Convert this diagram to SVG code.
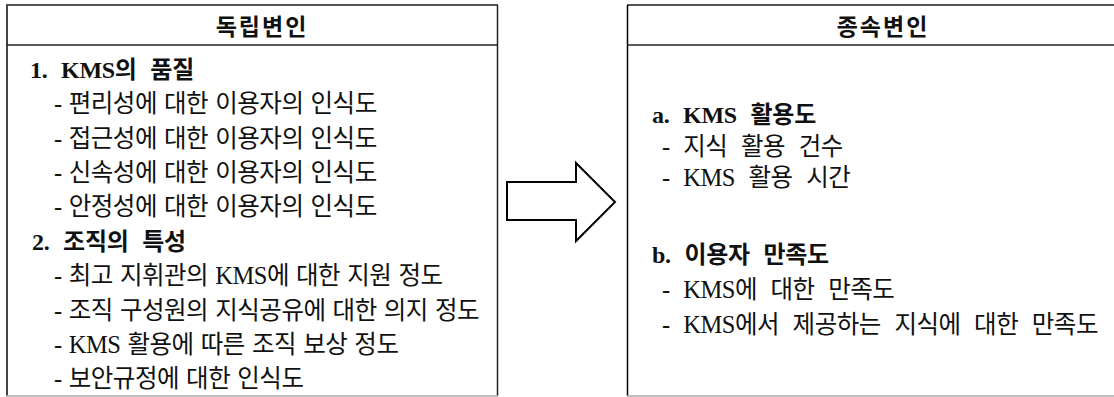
<svg xmlns="http://www.w3.org/2000/svg" width="1114" height="397" viewBox="0 0 1114 397">
<style>
text{font-family:"Liberation Serif","Noto Sans CJK KR",serif;fill:#111}
.t{font-size:23px;font-weight:bold;text-anchor:middle;letter-spacing:2px}
.h{font-size:24px;font-weight:bold;letter-spacing:-0.3px;word-spacing:8px}
.b{font-size:24.5px;letter-spacing:-0.5px;word-spacing:1.5px}
.r{word-spacing:8px}
.edge{stroke:#222;stroke-width:1.5;fill:none}
.top{stroke:#555;stroke-width:2;fill:none}
.bot{stroke:#aaa;stroke-width:1.5;fill:none}
.arrow{fill:#fff;stroke:#000;stroke-width:2;stroke-linejoin:miter}
</style>
<rect width="1114" height="397" fill="#fff"/>
<g id="independent">
<line class="top" x1="6" y1="5" x2="498" y2="5"/>
<line class="edge" x1="7" y1="5" x2="7" y2="396" style="stroke:#444;stroke-width:2"/>
<line class="edge" x1="497.5" y1="5" x2="497.5" y2="396"/>
<line class="edge" x1="7" y1="45" x2="497" y2="45"/>
<line class="bot" x1="6" y1="396" x2="498" y2="396"/>
<text class="t" x="262" y="35">독립변인</text>
<text class="h" x="30" y="78">1. KMS의 품질</text>
<text class="b" x="54" y="112">- 편리성에 대한 이용자의 인식도</text>
<text class="b" x="54" y="147">- 접근성에 대한 이용자의 인식도</text>
<text class="b" x="54" y="181">- 신속성에 대한 이용자의 인식도</text>
<text class="b" x="54" y="215">- 안정성에 대한 이용자의 인식도</text>
<text class="h" x="32" y="250">2. 조직의 특성</text>
<text class="b" x="54" y="284">- 최고 지휘관의 KMS에 대한 지원 정도</text>
<text class="b" x="54" y="319">- 조직 구성원의 지식공유에 대한 의지 정도</text>
<text class="b" x="54" y="353">- KMS 활용에 따른 조직 보상 정도</text>
<text class="b" x="54" y="387">- 보안규정에 대한 인식도</text>
</g>
<g id="connectors">
<polygon class="arrow" points="507,182 576,182 576,163 615,202 576,241 576,220 507,220"/>
</g>
<g id="dependent">
<line class="top" x1="627" y1="5" x2="1114" y2="5"/>
<line class="edge" x1="627.5" y1="5" x2="627.5" y2="396" style="stroke:#000"/>
<line class="edge" x1="627" y1="45" x2="1114" y2="45"/>
<line class="bot" x1="627" y1="396" x2="1114" y2="396"/>
<text class="t" x="883" y="35">종속변인</text>
<text class="h" x="652" y="123">a. KMS 활용도</text>
<text class="b r" x="662" y="155">- 지식 활용 건수</text>
<text class="b r" x="662" y="186">- KMS 활용 시간</text>
<text class="h" x="652" y="263">b. 이용자 만족도</text>
<text class="b r" x="662" y="298">- KMS에 대한 만족도</text>
<text class="b r" x="662" y="333">- KMS에서 제공하는 지식에 대한 만족도</text>
</g>
</svg>
